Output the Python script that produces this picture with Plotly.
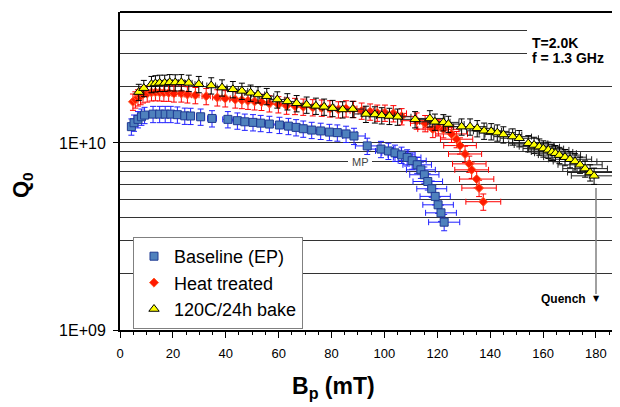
import plotly.graph_objects as go

# ---------------- data ----------------
base_bp = [4.3, 5.3, 6.8, 8.1, 9.3, 12.5, 15.0, 17.1, 19.2, 21.7, 24.5, 26.7, 30.5, 34.8,
           40.8, 44.4, 47.2, 50.3, 53.2, 56.5, 60.3, 63.7, 66.6, 69.3, 72.5, 75.9, 79.2,
           82.2, 85.5, 88.5, 93.5, 98.7, 101.5, 104.0, 106.5, 108.6, 110.5, 112.4, 113.8,
           115.1, 116.4, 117.9, 119.2, 120.3, 121.4, 122.6]
base_q0 = [1.222e10, 1.282e10, 1.337e10, 1.380e10, 1.409e10, 1.426e10, 1.426e10, 1.426e10,
           1.426e10, 1.416e10, 1.396e10, 1.393e10, 1.380e10, 1.352e10, 1.337e10, 1.315e10,
           1.297e10, 1.288e10, 1.276e10, 1.262e10, 1.247e10, 1.230e10, 1.211e10, 1.191e10,
           1.172e10, 1.159e10, 1.143e10, 1.135e10, 1.117e10, 1.089e10, 9.64e9, 9.27e9,
           9.06e9, 8.85e9, 8.63e9, 8.36e9, 8.04e9, 7.64e9, 7.18e9, 6.76e9, 6.22e9, 5.69e9,
           5.18e9, 4.67e9, 4.23e9, 3.77e9]

heat_bp = [4.9, 5.8, 6.8, 7.8, 8.7, 10.3, 11.9, 13.4, 15.0, 16.6, 18.4, 20.4, 23.2, 25.5,
           28.5, 32.6, 36.8, 39.8, 43.6, 46.1, 48.4, 50.9, 53.5, 56.5, 59.9, 63.0, 66.2,
           69.3, 72.9, 76.3, 79.4, 82.6, 85.5, 88.3, 91.4, 94.6, 97.3, 100.2, 103.4, 106.5,
           112.2, 115.4, 118.3, 120.4, 122.3, 125.4, 127.3, 128.6, 130.5, 132.1, 133.0,
           134.9, 135.8, 137.4]
heat_q0 = [1.660e10, 1.706e10, 1.750e10, 1.778e10, 1.816e10, 1.837e10, 1.862e10, 1.866e10,
           1.862e10, 1.854e10, 1.854e10, 1.837e10, 1.837e10, 1.816e10, 1.799e10, 1.778e10,
           1.750e10, 1.730e10, 1.706e10, 1.694e10, 1.679e10, 1.667e10, 1.656e10, 1.626e10,
           1.607e10, 1.581e10, 1.574e10, 1.560e10, 1.549e10, 1.542e10, 1.528e10, 1.510e10,
           1.528e10, 1.517e10, 1.486e10, 1.469e10, 1.449e10, 1.449e10, 1.439e10, 1.387e10,
           1.315e10, 1.274e10, 1.186e10, 1.211e10, 1.183e10, 1.117e10, 1.047e10, 9.68e9,
           8.73e9, 7.73e9, 7.18e9, 6.41e9, 5.74e9, 4.85e9]

bake_bp = [7.1, 9.0, 11.9, 13.4, 15.0, 16.9, 18.8, 20.9, 23.2, 26.0, 29.8, 34.5, 38.6, 42.7,
           46.1, 49.4, 52.2, 55.5, 59.5, 63.3, 66.8, 70.6, 74.1, 77.2, 80.4, 84.2, 88.0,
           93.0, 96.4, 99.0, 101.9, 105.0, 111.6, 117.2, 119.1, 122.3, 124.2, 129.2, 132.4,
           135.1, 137.7, 140.4, 142.7, 145.0, 148.5, 151.0, 154.4, 156.6, 158.6, 160.1,
           162.0, 163.4, 164.7, 166.2, 168.3, 170.2, 172.1, 174.0, 175.9, 177.8, 179.3]
bake_q0 = [1.871e10, 1.963e10, 2.061e10, 2.080e10, 2.094e10, 2.094e10, 2.109e10, 2.104e10,
           2.109e10, 2.094e10, 2.061e10, 2.028e10, 1.977e10, 1.936e10, 1.897e10, 1.854e10,
           1.816e10, 1.778e10, 1.706e10, 1.667e10, 1.629e10, 1.600e10, 1.578e10, 1.560e10,
           1.535e10, 1.510e10, 1.517e10, 1.429e10, 1.419e10, 1.403e10, 1.393e10, 1.380e10,
           1.337e10, 1.352e10, 1.297e10, 1.288e10, 1.262e10, 1.222e10, 1.222e10, 1.197e10,
           1.161e10, 1.153e10, 1.135e10, 1.109e10, 1.081e10, 1.059e10, 9.95e9, 9.75e9,
           9.55e9, 9.33e9, 9.18e9, 8.95e9, 8.81e9, 8.61e9, 8.39e9, 8.18e9, 7.96e9, 7.64e9,
           7.29e9, 6.95e9, 6.67e9]

series_names = ["Baseline (EP)", "Heat treated", "120C/24h bake"]
y_tick_vals = [1e9, 1e10]
y_tick_text = ["1E+09", "1E+10"]
y_grid_vals = [2e9, 3e9, 4e9, 5e9, 6e9, 7e9, 8e9, 9e9, 2e10, 3e10, 4e10, 5e10]
x_err_pct = 4.8
y_err_pct = 10

FONT = "Arial, Liberation Sans, sans-serif"

fig = go.Figure()

fig.add_trace(go.Scatter(
    x=base_bp, y=base_q0, mode="markers", name=series_names[0],
    marker=dict(symbol="square", size=8, color="#4F81BD", line=dict(color="#1F3A93", width=1)),
    error_y=dict(type="percent", value=y_err_pct, color="#2020FF", thickness=1, width=3),
    error_x=dict(type="percent", value=x_err_pct, color="#2020FF", thickness=1, width=3),
))
fig.add_trace(go.Scatter(
    x=heat_bp, y=heat_q0, mode="markers", name=series_names[1],
    marker=dict(symbol="diamond", size=7, color="#FF1A00", line=dict(color="#FF6030", width=1)),
    error_y=dict(type="percent", value=y_err_pct, color="#FF0000", thickness=1, width=3),
    error_x=dict(type="percent", value=x_err_pct, color="#FF0000", thickness=1, width=3),
))
fig.add_trace(go.Scatter(
    x=bake_bp, y=bake_q0, mode="markers", name=series_names[2],
    marker=dict(symbol="triangle-up", size=9, color="#FFFF00", line=dict(color="#000000", width=1)),
    error_y=dict(type="percent", value=y_err_pct, color="#000000", thickness=1, width=3),
    error_x=dict(type="percent", value=x_err_pct, color="#222222", thickness=1, width=3),
))

# page offset of the figure div (browser default body margin)
OFF = 8
# plot area in page pixels
PL, PR, PT, PB = 120, 620, 12, 330
W, H = 620 - OFF, 407 - OFF


def px(xp):
    return (xp - PL) / (PR - PL)


def py(yp):
    return (PB - yp) / (PB - PT)


fig.update_layout(
    width=W, height=H,
    margin=dict(l=PL - OFF, r=0, t=PT - OFF, b=H - (PB - OFF), pad=0),
    paper_bgcolor="white", plot_bgcolor="white",
    font=dict(family=FONT, color="black"),
    showlegend=True,
    legend=dict(
        x=px(133), y=py(237), xanchor="left", yanchor="top",
        bgcolor="white", bordercolor="#808080", borderwidth=1,
        font=dict(family=FONT, size=18, color="black"),
        traceorder="normal", itemwidth=30,
    ),
    xaxis=dict(
        range=[0, 189.1], dtick=20, tick0=0,
        showgrid=False, zeroline=False,
        showline=True, linecolor="black", linewidth=2,
        ticks="outside", ticklen=6, tickcolor="black", tickwidth=1,
        ticklabelstandoff=4,
        tickfont=dict(family=FONT, size=13, color="black"),
        minor=dict(dtick=5, ticks="outside", ticklen=3, tickcolor="black", showgrid=False),
    ),
    yaxis=dict(
        type="log", range=[9, 10.7],
        tickvals=y_tick_vals, ticktext=y_tick_text,
        showgrid=True, gridcolor="#333333", gridwidth=1,
        zeroline=False,
        showline=True, linecolor="black", linewidth=2,
        ticks="outside", ticklen=5, tickcolor="black", tickwidth=1,
        ticklabelstandoff=4,
        tickfont=dict(family=FONT, size=16, color="black"),
        minor=dict(tickvals=y_grid_vals, showgrid=True, gridcolor="#333333",
                   gridwidth=1, ticks=""),
    ),
)

shapes = [
    # top border
    dict(type="line", xref="paper", yref="paper", x0=0, x1=1, y0=1, y1=1,
         line=dict(color="black", width=2)),
    # white boxes behind the text labels
    dict(type="rect", xref="paper", yref="paper", x0=px(527), x1=px(612), y0=py(68), y1=py(27),
         fillcolor="white", line=dict(width=0), layer="above"),
    dict(type="rect", xref="paper", yref="paper", x0=px(348), x1=px(372), y0=py(168), y1=py(156),
         fillcolor="white", line=dict(width=0), layer="above"),
    # quench line
    dict(type="line", xref="paper", yref="paper", x0=px(596), x1=px(596), y0=py(188), y1=py(294),
         line=dict(color="#808080", width=1.5)),
]
fig.update_layout(shapes=shapes)

annotations = [
    dict(text="<b>T=2.0K</b>", xref="paper", yref="paper", x=px(530), y=py(43),
         xanchor="left", yanchor="middle", showarrow=False,
         font=dict(family=FONT, size=14, color="black")),
    dict(text="<b>f = 1.3 GHz</b>", xref="paper", yref="paper", x=px(530), y=py(58),
         xanchor="left", yanchor="middle", showarrow=False,
         font=dict(family=FONT, size=14, color="black")),
    dict(text="MP", xref="paper", yref="paper", x=px(360), y=py(162),
         xanchor="center", yanchor="middle", showarrow=False,
         font=dict(family=FONT, size=11, color="#444444")),
    dict(text="<b>Quench</b>", xref="paper", yref="paper", x=px(588), y=py(299),
         xanchor="right", yanchor="middle", showarrow=False,
         font=dict(family=FONT, size=12, color="black")),
    dict(text="▼", xref="paper", yref="paper", x=px(596), y=py(298),
         xanchor="center", yanchor="middle", showarrow=False,
         font=dict(family="DejaVu Sans", size=8, color="black")),
    dict(text="<b>Q<sub>0</sub></b>", xref="paper", yref="paper", x=px(22), y=py(185),
         xanchor="center", yanchor="middle", textangle=-90, showarrow=False,
         font=dict(family=FONT, size=22, color="black")),
    dict(text="<b>B<sub>p</sub> (mT)</b>", xref="paper", yref="paper", x=px(333), y=py(387),
         xanchor="center", yanchor="middle", showarrow=False,
         font=dict(family=FONT, size=23, color="black")),
]
fig.update_layout(annotations=annotations)

fig.write_html("out.html")
